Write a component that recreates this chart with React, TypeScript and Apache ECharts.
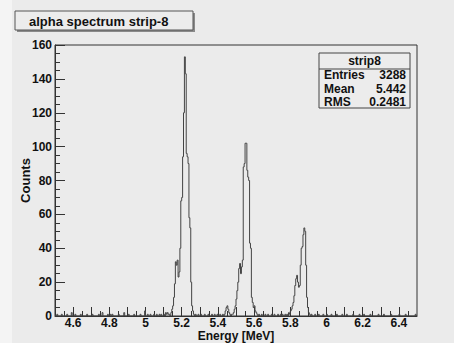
import React, { useEffect, useRef } from "react";
import * as echarts from "echarts";

// Histogram: 400 bins of 0.005 MeV from 4.5 to 6.5 MeV (one row = 0.1 MeV)
const binStart = 4.5;
const binWidth = 0.005;
const counts: number[] = [
  0,0,1,0,0,0,0,1,0,0,0,0,0,1,0,0,0,0,2,0,
  0,0,1,0,0,0,0,0,1,0,0,0,0,0,0,1,0,0,0,0,
  0,1,0,0,0,0,0,0,1,0,0,0,2,0,0,0,0,0,1,0,
  0,1,0,1,0,0,0,0,0,0,1,0,0,0,0,0,2,0,0,0,
  0,1,0,0,0,0,0,1,0,0,0,0,0,0,1,0,0,0,0,3,
  0,0,1,0,0,1,0,0,0,1,0,0,1,0,0,1,0,1,0,0,
  1,0,2,1,2,1,1,0,2,4,6,11,19,32,30,33,23,26,40,68,
  70,94,120,153,143,96,94,90,58,52,20,6,3,1,0,1,0,0,1,0,
  0,1,0,0,0,1,0,0,0,1,0,0,0,1,0,0,1,0,0,1,
  0,0,1,0,0,1,0,1,3,5,6,4,2,1,0,1,1,2,4,6,
  10,15,20,28,31,25,29,33,88,90,102,102,86,82,80,43,40,11,8,5,
  6,3,2,1,0,1,0,0,1,0,0,0,1,0,0,1,0,0,0,1,
  0,0,1,0,0,0,1,0,0,1,0,1,0,0,1,0,1,0,2,1,
  3,4,6,8,12,18,22,24,20,17,18,30,40,41,48,52,50,30,11,5,
  2,1,0,1,0,0,0,1,0,0,0,1,0,0,0,0,1,0,0,0,
  1,0,0,0,0,1,0,0,0,0,0,1,0,0,0,0,0,1,0,0,
  0,0,1,0,0,0,0,0,0,1,0,0,0,0,0,0,1,0,0,0,
  0,1,0,0,0,0,0,0,1,0,0,0,0,0,0,0,0,1,0,0,
  0,0,0,1,0,0,0,0,0,0,0,1,0,0,0,0,0,0,0,0,
  1,0,0,0,0,0,0,1,0,0,0,0,0,0,0,0,0,0,1,0,
];

const xLabelValues = [4.6, 4.8, 5.0, 5.2, 5.4, 5.6, 5.8, 6.0, 6.2, 6.4];
const xMajorTicks = [4.6, 4.7, 4.8, 4.9, 5.0, 5.1, 5.2, 5.3, 5.4, 5.5, 5.6, 5.7, 5.8, 5.9, 6.0, 6.1, 6.2, 6.3, 6.4];
const xMinorTicks = [4.55, 4.65, 4.75, 4.85, 4.95, 5.05, 5.15, 5.25, 5.35, 5.45, 5.55, 5.65, 5.75, 5.85, 5.95, 6.05, 6.15, 6.25, 6.35, 6.45];

const titleText = "alpha spectrum strip-8";
const statsName = "strip8";
const statsLabels = ["Entries", "Mean", "RMS"];
const statsValues = ["3288", "5.442", "0.2481"];

const FONT = "Liberation Sans, Arial, Helvetica, sans-serif";

export default function App() {
  const ref = useRef<HTMLDivElement>(null);
  useEffect(() => {
    if (!ref.current) return;
    const chart = echarts.init(ref.current, undefined, { renderer: "svg" });
    const data: [number, number][] = counts.map((c, j) => [binStart + binWidth * j, c]);
    data.push([binStart + binWidth * counts.length, counts[counts.length - 1]]);

    const gridL = 55, gridT = 45, gridR = 37, gridB = 27;
    const labelStyle = { fontFamily: FONT, fontWeight: "bold" as const, fontSize: 12, color: "#111" };

    const statsX = 319, statsY = 53, statsW = 91, statsH = 55;
    const graphic: any[] = [
      { type: "rect", shape: { x: 0, y: 0, width: 12, height: 343 }, style: { fill: "#f4f4f4" }, z: -10 },
      { type: "rect", shape: { x: 17, y: 13, width: 178, height: 19 }, style: { fill: "#8a8a8a" } },
      { type: "rect", shape: { x: 15, y: 11, width: 178, height: 19 }, style: { fill: "#ececec", stroke: "#555", lineWidth: 1 } },
      { type: "text", x: 29, y: 21, style: { text: titleText, font: `bold 13px ${FONT}`, fill: "#111", verticalAlign: "middle" } },
      { type: "rect", shape: { x: statsX, y: statsY, width: statsW, height: statsH }, style: { fill: "#ececec", stroke: "#444", lineWidth: 1 } },
      { type: "line", shape: { x1: statsX, y1: 69, x2: statsX + statsW, y2: 69 }, style: { stroke: "#444", lineWidth: 1 } },
      { type: "text", x: statsX + statsW / 2, y: 61, style: { text: statsName, font: `bold 12px ${FONT}`, fill: "#111", align: "center", verticalAlign: "middle" } },
    ];
    statsLabels.forEach((l, i) => {
      const y = 75 + i * 13.5;
      graphic.push({ type: "text", x: 324, y, style: { text: l, font: `bold 12px ${FONT}`, fill: "#111", verticalAlign: "middle" } });
      graphic.push({ type: "text", x: 406, y, style: { text: statsValues[i], font: `bold 12px ${FONT}`, fill: "#111", align: "right", verticalAlign: "middle" } });
    });

    chart.setOption({
      animation: false,
      backgroundColor: "#ebebeb",
      grid: { left: gridL, top: gridT, right: gridR, bottom: gridB, outerBoundsMode: "none", containLabel: false, show: true, borderColor: "#333", borderWidth: 1, backgroundColor: "transparent" },
      xAxis: [
        {
          type: "value", min: 4.5, max: 6.5, position: "bottom",
          name: "Energy [MeV]", nameLocation: "middle", nameGap: 14, nameMoveOverlap: false,
          nameTextStyle: { fontFamily: FONT, fontWeight: "bold", fontSize: 12, lineHeight: 12, color: "#111" },
          axisLine: { show: true, onZero: false, lineStyle: { color: "#333", width: 1 } },
          axisTick: { show: true, inside: true, length: 9, customValues: xMajorTicks, lineStyle: { color: "#333" } },
          axisLabel: { ...labelStyle, lineHeight: 12, margin: 1, customValues: xLabelValues, formatter: (v: number) => String(Math.round(v * 10) / 10) },
          splitLine: { show: false },
        },
        {
          type: "value", min: 4.5, max: 6.5, position: "bottom", gridIndex: 0,
          axisLine: { show: false },
          axisTick: { show: true, inside: true, length: 5, customValues: xMinorTicks, lineStyle: { color: "#333" } },
          axisLabel: { show: false },
          splitLine: { show: false },
        },
      ],
      yAxis: {
        type: "value", min: 0, max: 160, interval: 20,
        name: "Counts", nameLocation: "middle", nameGap: 23, nameMoveOverlap: false,
        nameTextStyle: { fontFamily: FONT, fontWeight: "bold", fontSize: 13, color: "#111" },
        axisLine: { show: true, lineStyle: { color: "#333", width: 1 } },
        axisTick: { show: true, inside: true, length: 10, lineStyle: { color: "#333" } },
        minorTick: { show: true, splitNumber: 4, length: 5, lineStyle: { color: "#333" } },
        axisLabel: { ...labelStyle, margin: 3 },
        splitLine: { show: false },
      },
      series: [
        {
          type: "line", xAxisIndex: 0, data, step: "end", symbol: "none",
          lineStyle: { color: "#444", width: 1 },
        },
      ],
      graphic,
    });
    return () => chart.dispose();
  }, []);
  return <div ref={ref} style={{ position: "fixed", left: 0, top: 0, width: 454, height: 343 }} />;
}
